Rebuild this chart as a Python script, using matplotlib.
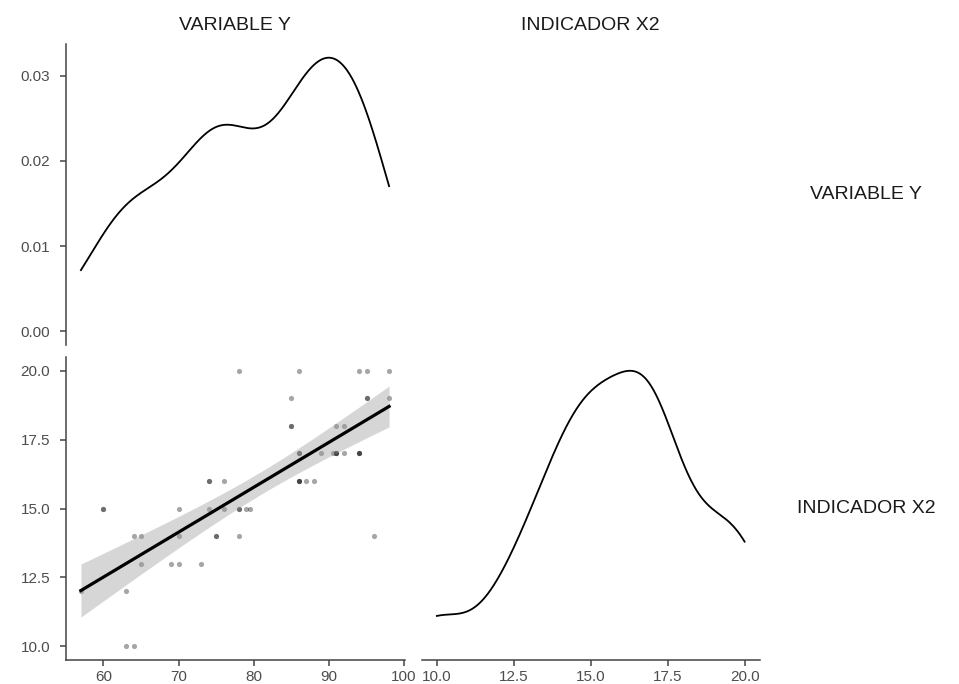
import matplotlib
matplotlib.use("Agg")
import matplotlib.pyplot as plt
import numpy as np

plt.rcParams['font.family'] = ['Liberation Sans', 'DejaVu Sans']

# scatter data: (VARIABLE Y, INDICADOR X2)
# darker dots are overlapping points, so some pairs repeat
var_y = [78, 86, 94, 95, 98,
         85, 95, 95, 98,
         85, 85, 91, 92,
         86, 86, 89, 90.5, 91, 91, 91, 92, 94, 94, 94,
         74, 74, 76, 86, 86, 86, 87, 88,
         60, 60, 70, 74, 76, 78, 78, 79, 79.5,
         64, 65, 70, 75, 75, 78, 96,
         65, 69, 70, 73,
         57, 63,
         63, 64]
ind_x2 = [20, 20, 20, 20, 20,
          19, 19, 19, 19,
          18, 18, 18, 18,
          17, 17, 17, 17, 17, 17, 17, 17, 17, 17, 17,
          16, 16, 16, 16, 16, 16, 16, 16,
          15, 15, 15, 15, 15, 15, 15, 15, 15,
          14, 14, 14, 14, 14, 14, 14,
          13, 13, 13, 13,
          12, 12,
          10, 10]

var_names = ["VARIABLE Y", "INDICADOR X2"]
y_ticks_dens = [0.00, 0.01, 0.02, 0.03]
x_ticks_y = [60, 70, 80, 90, 100]
ticks_x2 = [10.0, 12.5, 15.0, 17.5, 20.0]

TXT = "#4d4d4d"
LINE = "#444444"


def kde(values):
    # gaussian density with R's default bandwidth (bw.nrd0), over the data range
    v = np.asarray(values, dtype=float)
    n = len(v)
    iqr = np.subtract(*np.percentile(v, [75, 25]))
    bw = 0.9 * min(v.std(ddof=1), iqr / 1.34) * n ** (-0.2)
    grid = np.linspace(v.min(), v.max(), 512)
    dens = np.exp(-0.5 * ((grid[:, None] - v[None, :]) / bw) ** 2).sum(axis=1)
    dens /= n * bw * np.sqrt(2 * np.pi)
    return grid, dens


def style(ax, left, bottom):
    for side in ["top", "right"]:
        ax.spines[side].set_visible(False)
    ax.spines["left"].set_visible(left)
    ax.spines["bottom"].set_visible(bottom)
    for side in ["left", "bottom"]:
        ax.spines[side].set_color(LINE)
        ax.spines[side].set_linewidth(1.1)
    ax.tick_params(axis="y", left=left, labelleft=left, colors=LINE, labelcolor=TXT,
                   labelsize=11, length=4, width=1.1, pad=7)
    ax.tick_params(axis="x", bottom=bottom, labelbottom=bottom, colors=LINE, labelcolor=TXT,
                   labelsize=11, length=4, width=1.1)


fig = plt.figure(figsize=(9.59, 6.84), dpi=100)
W, H = 959, 684


def add_axes(x0, x1, y0, y1):
    return fig.add_axes([x0 / W, 1 - y1 / H, (x1 - x0) / W, (y1 - y0) / H])


ax_tl = add_axes(65.5, 404.5, 44, 345)
ax_bl = add_axes(65.5, 404.5, 357, 660)
ax_br = add_axes(421.5, 760, 357, 660)

xlo, xhi = min(var_y), max(var_y)
xpad = 0.05 * (xhi - xlo)
ylo, yhi = min(ind_x2), max(ind_x2)
ypad = 0.05 * (yhi - ylo)

# top-left: density of VARIABLE Y
g, d = kde(var_y)
ax_tl.plot(g, d, color="black", lw=1.3)
ax_tl.set_xlim(xlo - xpad, xhi + xpad)
ax_tl.set_ylim(-0.05 * d.max(), 1.05 * d.max())
ax_tl.set_yticks(y_ticks_dens)
ax_tl.set_yticklabels(["%.2f" % t for t in y_ticks_dens])
style(ax_tl, True, False)

# bottom-left: scatter with linear fit and 95% band
x = np.asarray(var_y, dtype=float)
y = np.asarray(ind_x2, dtype=float)
ax_bl.scatter(x, y, s=14, color="black", alpha=0.35, linewidths=0, zorder=2)
slope, icpt = np.polyfit(x, y, 1)
xs = np.linspace(x.min(), x.max(), 100)
fit = icpt + slope * xs
n = len(x)
resid = y - (icpt + slope * x)
s = np.sqrt((resid ** 2).sum() / (n - 2))
se = s * np.sqrt(1 / n + (xs - x.mean()) ** 2 / ((x - x.mean()) ** 2).sum())
t_crit = 2.005
ax_bl.fill_between(xs, fit - t_crit * se, fit + t_crit * se, color="#999999", alpha=0.4,
                   linewidth=0, zorder=3)
ax_bl.plot(xs, fit, color="black", lw=2.3, zorder=4)
ax_bl.set_xlim(xlo - xpad, xhi + xpad)
ax_bl.set_ylim(ylo - ypad, yhi + ypad)
ax_bl.set_xticks(x_ticks_y)
ax_bl.set_xticklabels([str(t) for t in x_ticks_y])
ax_bl.set_yticks(ticks_x2)
ax_bl.set_yticklabels(["%.1f" % t for t in ticks_x2])
style(ax_bl, True, True)

# bottom-right: density of INDICADOR X2
g2, d2 = kde(ind_x2)
ax_br.plot(g2, d2, color="black", lw=1.3)
ax_br.set_xlim(ylo - ypad, yhi + ypad)
ax_br.set_ylim(-0.05 * d2.max(), 1.05 * d2.max())
ax_br.set_xticks(ticks_x2)
ax_br.set_xticklabels(["%.1f" % t for t in ticks_x2])
style(ax_br, False, True)

# strip labels
strip_kw = dict(fontsize=14, color="#1a1a1a", ha="center", va="center")
fig.text(235 / W, 1 - 25 / H, var_names[0], **strip_kw)
fig.text(590.5 / W, 1 - 25 / H, var_names[1], **strip_kw)
fig.text(866 / W, 1 - 194.5 / H, var_names[0], **strip_kw)
fig.text(866 / W, 1 - 508.5 / H, var_names[1], **strip_kw)

fig.savefig("out.png", dpi=100)
